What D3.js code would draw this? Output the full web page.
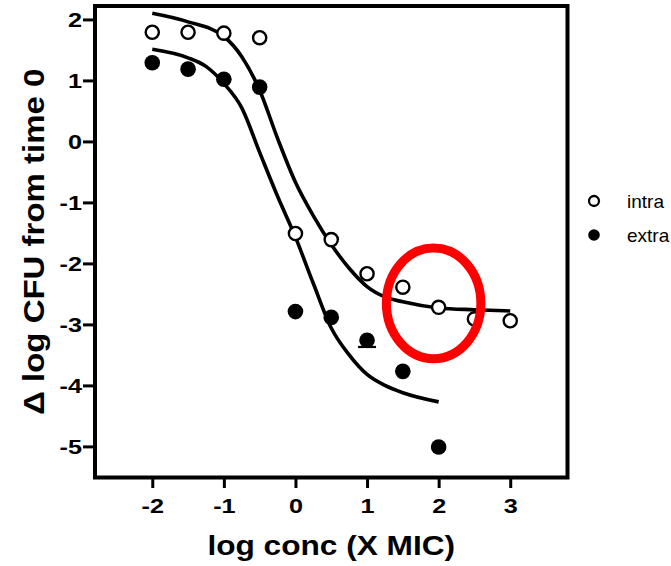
<!DOCTYPE html>
<html>
<head>
<meta charset="utf-8">
<script src="https://cdn.jsdelivr.net/npm/d3@7"></script>
<style>
  html, body { margin: 0; padding: 0; background: #fff; overflow: hidden; }
  svg { display: block; }
</style>
</head>
<body>
<svg id="chart" width="671" height="566"></svg>
<script>
// Log10 of the drug concentration (multiples of MIC)
const intraConc = [-2, -1.5, -1, -0.5, 0, 0.5, 1, 1.5, 2, 2.5, 3];
const intraMean = [1.79, 1.79, 1.775, 1.70, -1.51, -1.61, -2.17, -2.39, -2.72, -2.91, -2.94];

const extraConc = [-2, -1.5, -1, -0.5, 0, 0.5, 1, 1.5, 2];
const extraMean = [1.29, 1.185, 1.02, 0.89, -2.79, -2.885, -3.26, -3.77, -5.01];
const extraLowerErr = [0, 0, 0, 0, 0, 0, 0.11, 0, 0];

// Fitted dose-response curves, sampled along x
const intraFitX = [-2, -1.5, -1, -0.75, -0.5, -0.25, 0, 0.25, 0.5, 0.75, 1, 1.25, 1.5, 2, 2.5, 3];
const intraFitY = [2.10, 1.96, 1.72, 1.39, 0.84, 0.05, -0.67, -1.22, -1.69, -2.08, -2.38, -2.55, -2.63, -2.73, -2.76, -2.78];

const extraFitX = [-2, -1.5, -1.25, -1, -0.75, -0.5, -0.25, 0, 0.25, 0.5, 0.75, 1, 1.25, 1.5, 2];
const extraFitY = [1.51, 1.37, 1.23, 0.95, 0.55, -0.18, -0.90, -1.57, -2.33, -3.06, -3.50, -3.82, -4.00, -4.12, -4.27];

const xTicks = [-2, -1, 0, 1, 2, 3];
const yTicks = [-5, -4, -3, -2, -1, 0, 1, 2];
const seriesNames = ["intra", "extra"];

// Highlighted region (centre and half-axes in data units)
const highlightCentre = [1.93, -2.655];
const highlightHalfAxes = [0.66, 0.907];

const svg = d3.select("#chart");
svg.append("rect").attr("width", 671).attr("height", 566).attr("fill", "#fff");

const x = d3.scaleLinear().domain([-2.8, 3.8]).range([95, 567.5]);
const y = d3.scaleLinear().domain([-5.51, 2.22]).range([477.5, 6]);

const FONT = "'Liberation Sans', Arial, Helvetica, sans-serif";
const tickLabel = d => (d < 0 ? "-" + Math.abs(d) : String(d));

// widen text glyphs horizontally around their anchor
function stretch(sel, s) {
  sel.each(function () {
    const t = d3.select(this);
    const tx = +t.attr("x") || 0;
    const ty = +t.attr("y") || 0;
    t.attr("x", null).attr("y", null)
     .attr("transform", `translate(${tx},${ty}) scale(${s},1)`);
  });
}

// Axes
const xAxis = svg.append("g")
  .attr("transform", `translate(0,${y.range()[0]})`)
  .call(d3.axisBottom(x).tickValues(xTicks).tickFormat(tickLabel)
    .tickSize(10.5).tickPadding(10.5).tickSizeOuter(0));
const yAxis = svg.append("g")
  .attr("transform", `translate(${x.range()[0]},0)`)
  .call(d3.axisLeft(y).tickValues(yTicks).tickFormat(tickLabel)
    .tickSize(12).tickPadding(1).tickSizeOuter(0));

[xAxis, yAxis].forEach(g => {
  g.select(".domain").remove();
  g.selectAll(".tick line").attr("stroke", "#000").attr("stroke-width", 3);
  g.selectAll(".tick text")
    .attr("fill", "#000")
    .style("font-family", FONT)
    .style("font-weight", "bold")
    .style("font-size", "21px");
});
xAxis.selectAll(".tick text").call(stretch, 1.2);
yAxis.selectAll(".tick text").call(stretch, 1.2);

// Frame
svg.append("rect")
  .attr("x", x.range()[0]).attr("y", y.range()[1])
  .attr("width", x.range()[1] - x.range()[0])
  .attr("height", y.range()[0] - y.range()[1])
  .attr("fill", "none").attr("stroke", "#000").attr("stroke-width", 4);

// Fitted curves
const line = d3.line().x(d => x(d[0])).y(d => y(d[1])).curve(d3.curveMonotoneX);
svg.append("path")
  .datum(intraFitX.map((v, i) => [v, intraFitY[i]]))
  .attr("d", line).attr("fill", "none").attr("stroke", "#000")
  .attr("stroke-width", 3.6).attr("stroke-linecap", "butt");
svg.append("path")
  .datum(extraFitX.map((v, i) => [v, extraFitY[i]]))
  .attr("d", line).attr("fill", "none").attr("stroke", "#000")
  .attr("stroke-width", 3.6).attr("stroke-linecap", "butt");

// Error bars (lower whisker)
const errG = svg.append("g");
extraConc.forEach((c, i) => {
  const e = extraLowerErr[i];
  if (!e) return;
  const cx = x(c), y0 = y(extraMean[i]), y1 = y(extraMean[i] - e);
  errG.append("line").attr("x1", cx).attr("x2", cx).attr("y1", y0).attr("y2", y1)
    .attr("stroke", "#000").attr("stroke-width", 2);
  errG.append("line").attr("x1", cx - 9).attr("x2", cx + 9).attr("y1", y1).attr("y2", y1)
    .attr("stroke", "#000").attr("stroke-width", 2.2);
});

// Data points
svg.append("g").selectAll("circle")
  .data(extraConc.map((c, i) => [c, extraMean[i]]))
  .join("circle")
  .attr("cx", d => x(d[0])).attr("cy", d => y(d[1]))
  .attr("r", 7.8).attr("fill", "#000");

svg.append("g").selectAll("circle")
  .data(intraConc.map((c, i) => [c, intraMean[i]]))
  .join("circle")
  .attr("cx", d => x(d[0])).attr("cy", d => y(d[1]))
  .attr("r", 6.6).attr("fill", "#fff").attr("stroke", "#000").attr("stroke-width", 2.4);

// Highlight ellipse
svg.append("ellipse")
  .attr("cx", x(highlightCentre[0])).attr("cy", y(highlightCentre[1]))
  .attr("rx", x(highlightCentre[0] + highlightHalfAxes[0]) - x(highlightCentre[0]))
  .attr("ry", y(highlightCentre[1]) - y(highlightCentre[1] + highlightHalfAxes[1]))
  .attr("fill", "none").attr("stroke", "#f00").attr("stroke-width", 9);

// Axis titles
svg.append("text")
  .attr("transform", `translate(${(x.range()[0] + x.range()[1]) / 2},555) scale(1.13,1)`)
  .attr("text-anchor", "middle")
  .style("font-family", FONT).style("font-weight", "bold").style("font-size", "28px")
  .text("log conc (X MIC)");

svg.append("text")
  .attr("transform", `translate(43.5,${(y.range()[0] + y.range()[1]) / 2}) rotate(-90) scale(1.1,1)`)
  .attr("text-anchor", "middle")
  .style("font-family", FONT).style("font-weight", "bold").style("font-size", "30px")
  .text("\u0394 log CFU from time 0");

// Legend
const legend = svg.append("g");
seriesNames.forEach((name, i) => {
  const ly = 201 + i * 34;
  if (i === 0) {
    legend.append("circle").attr("cx", 594).attr("cy", ly).attr("r", 5)
      .attr("fill", "#fff").attr("stroke", "#000").attr("stroke-width", 2.3);
  } else {
    legend.append("circle").attr("cx", 594).attr("cy", ly).attr("r", 5.8).attr("fill", "#000");
  }
  legend.append("text")
    .attr("x", 627).attr("y", ly + 7)
    .style("font-family", FONT).style("font-size", "19px")
    .text(name);
});
</script>
</body>
</html>
